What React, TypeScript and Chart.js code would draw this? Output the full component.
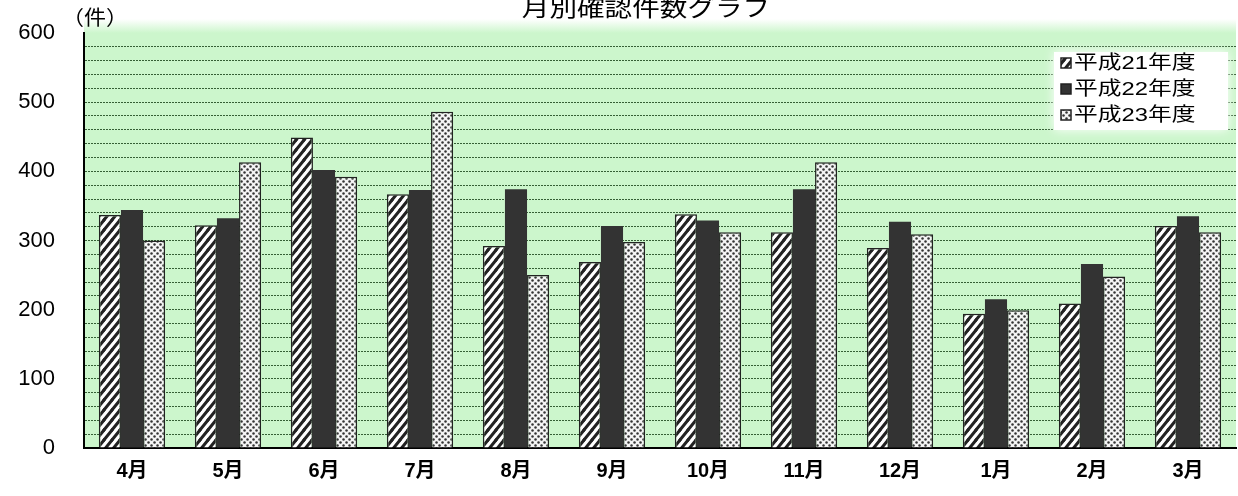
import React, { useEffect, useRef } from 'react';
import { Chart, registerables } from 'chart.js';

Chart.register(...registerables);

const categories = ['4月', '5月', '6月', '7月', '8月', '9月', '10月', '11月', '12月', '1月', '2月', '3月'];
const seriesLabels = ['平成21年度', '平成22年度', '平成23年度'];
const h21 = [337, 322, 449, 367, 292, 269, 338, 312, 289, 194, 209, 321];
const h22 = [344, 332, 402, 373, 374, 321, 329, 374, 327, 215, 266, 335];
const h23 = [300, 413, 392, 486, 250, 298, 312, 413, 309, 199, 248, 312];
const yTicks = [0, 100, 200, 300, 400, 500, 600];
const titleText = '月別確認件数グラフ';
const unitText = '（件）';

const FONT = "'Liberation Sans', 'Noto Sans CJK JP', sans-serif";

function makeStripe(ctx: CanvasRenderingContext2D) {
  const w = 8, h = 10;
  const c = document.createElement('canvas');
  c.width = w; c.height = h;
  const g = c.getContext('2d')!;
  g.fillStyle = '#ffffff';
  g.fillRect(0, 0, w, h);
  g.strokeStyle = '#222222';
  g.lineWidth = 3.0;
  g.lineCap = 'square';
  const segs = [[0, h, w, 0], [-w, h, 0, 0], [w, h, 2 * w, 0], [0, 2 * h, w, h], [0, 0, w, -h]];
  for (const s of segs) {
    g.beginPath();
    g.moveTo(s[0], s[1]);
    g.lineTo(s[2], s[3]);
    g.stroke();
  }
  return ctx.createPattern(c, 'repeat')!;
}

function makeDots(ctx: CanvasRenderingContext2D) {
  const c = document.createElement('canvas');
  c.width = 6; c.height = 6;
  const g = c.getContext('2d')!;
  g.fillStyle = '#f4f4f4';
  g.fillRect(0, 0, 6, 6);
  g.fillStyle = '#333333';
  for (const [x, y] of [[1.5, 1.5], [4.5, 4.5]]) {
    g.beginPath();
    g.arc(x, y, 1.25, 0, Math.PI * 2);
    g.fill();
  }
  return ctx.createPattern(c, 'repeat')!;
}

export default function App() {
  const ref = useRef<HTMLCanvasElement | null>(null);

  useEffect(() => {
    document.body.style.margin = '0';
    const canvas = ref.current!;
    const ctx = canvas.getContext('2d')!;
    const stripe = makeStripe(ctx);
    const dots = makeDots(ctx);
    const fills = [stripe, '#333333', dots];

    const bgPlugin = {
      id: 'bg',
      beforeDraw(chart: any) {
        const { ctx: c, chartArea: a } = chart;
        c.save();
        c.fillStyle = '#ffffff';
        c.fillRect(0, 0, chart.width, chart.height);
        const grad = c.createLinearGradient(0, a.top - 14, 0, a.top);
        grad.addColorStop(0, 'rgba(204,246,204,0)');
        grad.addColorStop(1, 'rgba(204,246,204,1)');
        c.fillStyle = grad;
        c.fillRect(a.left, a.top - 14, a.right - a.left, 14);
        c.fillStyle = '#ccf6cc';
        c.fillRect(a.left, a.top, a.right - a.left, a.bottom - a.top);
        c.restore();
      },
    };

    const textPlugin = {
      id: 'texts',
      afterDraw(chart: any) {
        const { ctx: c } = chart;
        c.save();
        c.fillStyle = '#000000';
        c.textBaseline = 'middle';
        c.textAlign = 'center';

        c.save();
        c.translate(646, 10);
        c.scale(1.2, 1);
        c.font = `23px ${FONT}`;
        c.fillText(titleText, 0, 0);
        c.restore();

        c.save();
        c.textAlign = 'left';
        c.translate(62, 19);
        c.scale(1.1, 1);
        c.font = `20px ${FONT}`;
        c.fillText(unitText, 0, 0);
        c.restore();

        const lx = 1050, ly = 48, lw = 182, lh = 86;
        c.save();
        c.shadowColor = 'rgba(255,255,255,1)';
        c.shadowBlur = 10;
        c.fillStyle = '#ffffff';
        c.fillRect(lx + 4, ly + 4, lw - 8, lh - 8);
        c.restore();
        seriesLabels.forEach((lab, i) => {
          const cy = ly + 15 + i * 26;
          c.fillStyle = fills[i] as any;
          c.fillRect(lx + 11, cy - 5, 10, 10);
          c.strokeStyle = '#222222';
          c.lineWidth = 1.5;
          c.strokeRect(lx + 11, cy - 5, 10, 10);
          c.save();
          c.textAlign = 'left';
          c.translate(lx + 24, cy + 1);
          c.scale(1.25, 1);
          c.font = `19px ${FONT}`;
          c.fillStyle = '#000000';
          c.fillText(lab, 0, 0);
          c.restore();
        });
        c.restore();
      },
    };

    const chart = new Chart(canvas, {
      type: 'bar',
      data: {
        labels: categories,
        datasets: [
          { label: seriesLabels[0], data: h21, backgroundColor: stripe as any, borderColor: '#222222', borderWidth: 1.5 },
          { label: seriesLabels[1], data: h22, backgroundColor: '#333333', borderColor: '#333333', borderWidth: 0 },
          { label: seriesLabels[2], data: h23, backgroundColor: dots as any, borderColor: '#222222', borderWidth: 1.5 },
        ],
      },
      options: {
        responsive: false,
        devicePixelRatio: 1,
        animation: false,
        layout: { padding: { top: 33, right: 2, left: 0, bottom: 0 } },
        datasets: { bar: { categoryPercentage: 0.69, barPercentage: 1.0 } },
        plugins: {
          legend: { display: false },
          tooltip: { enabled: false },
          title: { display: false },
        },
        scales: {
          x: {
            grid: { display: false, drawTicks: false },
            border: { display: true, color: '#000000', width: 2 },
            ticks: { color: '#000000', font: { family: FONT, size: 20, weight: 'bold' }, padding: 11, maxRotation: 0 },
            afterFit: (s: any) => { s.height = 48; },
          },
          y: {
            min: 0,
            max: 600,
            afterBuildTicks: (s: any) => {
              const t: any[] = [];
              for (let v = 0; v <= 600; v += 20) t.push({ value: v });
              s.ticks = t;
            },
            grid: {
              drawTicks: true,
              tickLength: 29,
              tickColor: 'rgba(0,0,0,0)',
              lineWidth: 1,
              color: (c: any) => (c.tick && (c.tick.value === 600 || c.tick.value === 0) ? 'rgba(0,0,0,0)' : '#355f35'),
            },
            border: { display: true, color: '#000000', width: 2, dash: [2, 1] },
            ticks: {
              color: '#000000',
              font: { family: FONT, size: 22 },
              padding: 0,
              autoSkip: false,
              callback: (v: any) => (yTicks.includes(Number(v)) ? String(v) : ''),
            },
            afterFit: (s: any) => { s.width = 84; },
          },
        },
      },
      plugins: [bgPlugin, textPlugin],
    } as any);

    return () => chart.destroy();
  }, []);

  return (
    <div style={{ width: 1238, height: 496 }}>
      <canvas ref={ref} width={1238} height={496} style={{ display: 'block' }} />
    </div>
  );
}
